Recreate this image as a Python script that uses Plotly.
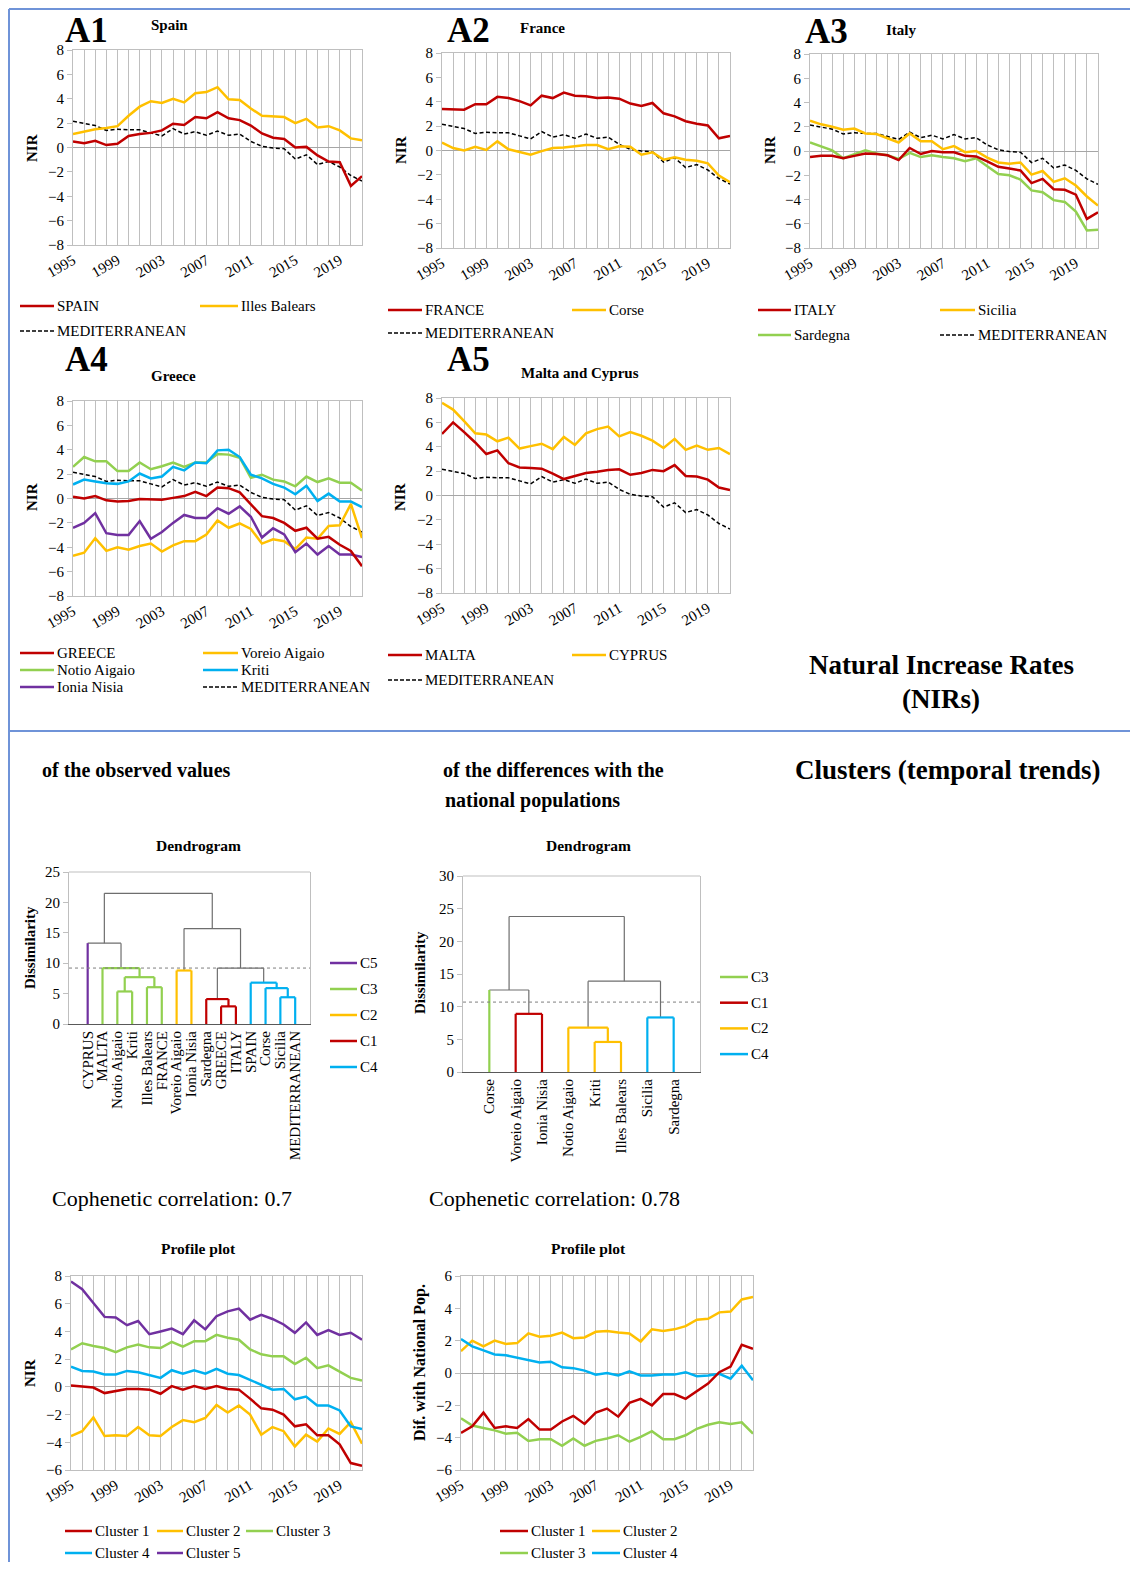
import plotly.graph_objects as go

# Page body has an 8px margin: the figure is sized to fit the window without scrollbars
OFF = 8
W, H = 1122, 1554
FONT = "Liberation Serif"

# ---------------- DATA ----------------
years = list(range(1995, 2022))
tick_labels = [str(y) if (y - 1995) % 4 == 0 else "" for y in years]

MEDITERRANEAN = [2.15, 2.0, 1.8, 1.4, 1.5, 1.45, 1.45, 1.2, 0.95, 1.55, 1.1, 1.3, 1.0, 1.35, 1.0, 1.1,
                 0.5, 0.1, -0.05, -0.1, -0.95, -0.6, -1.4, -1.15, -1.6, -2.3, -2.75]

SPAIN = [0.5, 0.35, 0.55, 0.2, 0.3, 0.95, 1.1, 1.2, 1.4, 1.95, 1.85, 2.5, 2.4, 2.9, 2.4, 2.25,
         1.8, 1.15, 0.8, 0.7, 0.0, 0.05, -0.65, -1.15, -1.2, -3.15, -2.35]
Illes_Balears = [1.1, 1.3, 1.5, 1.6, 1.75, 2.6, 3.35, 3.8, 3.65, 4.0, 3.7, 4.45, 4.55, 4.95, 3.95, 3.9,
                 3.2, 2.6, 2.55, 2.5, 2.0, 2.35, 1.65, 1.75, 1.4, 0.75, 0.6]

FRANCE = [3.4, 3.4, 3.35, 3.8, 3.8, 4.4, 4.3, 4.05, 3.7, 4.5, 4.3, 4.75, 4.5, 4.45, 4.3, 4.35,
          4.25, 3.85, 3.65, 3.9, 3.05, 2.8, 2.4, 2.2, 2.05, 1.0, 1.2]
Corse = [0.65, 0.2, 0.0, 0.3, 0.05, 0.75, 0.1, -0.1, -0.35, -0.05, 0.2, 0.25, 0.35, 0.45, 0.45, 0.1,
         0.35, 0.3, -0.35, -0.15, -0.75, -0.55, -0.75, -0.85, -1.05, -2.05, -2.6]

ITALY = [-0.5, -0.4, -0.4, -0.6, -0.4, -0.2, -0.25, -0.35, -0.75, 0.25, -0.25, 0.0, -0.1, -0.1, -0.4, -0.45,
         -0.85, -1.3, -1.45, -1.6, -2.65, -2.3, -3.15, -3.2, -3.6, -5.6, -5.05]
Sicilia = [2.5, 2.2, 2.0, 1.75, 1.85, 1.45, 1.4, 1.05, 0.7, 1.45, 0.8, 0.8, 0.15, 0.4, -0.1, 0.0,
           -0.55, -0.95, -1.05, -0.95, -1.95, -1.65, -2.55, -2.25, -2.85, -3.75, -4.5]
Sardegna = [0.7, 0.35, 0.05, -0.6, -0.3, 0.05, -0.2, -0.35, -0.65, -0.15, -0.5, -0.35, -0.5, -0.6, -0.85, -0.6,
            -1.25, -1.9, -2.0, -2.35, -3.25, -3.4, -4.05, -4.2, -5.0, -6.55, -6.5]

GREECE = [0.15, 0.0, 0.2, -0.15, -0.25, -0.2, -0.05, -0.05, -0.1, 0.05, 0.2, 0.55, 0.2, 0.9, 0.85, 0.5,
          -0.5, -1.45, -1.6, -2.0, -2.65, -2.4, -3.3, -3.15, -3.8, -4.3, -5.55]
Voreio_Aigaio = [-4.7, -4.45, -3.25, -4.3, -4.0, -4.2, -3.9, -3.7, -4.35, -3.85, -3.5, -3.5, -2.95, -1.8, -2.4, -2.05,
                 -2.5, -3.7, -3.35, -3.5, -4.15, -3.2, -3.3, -2.25, -2.2, -0.45, -3.25]
Notio_Aigaio = [2.6, 3.4, 3.05, 3.05, 2.25, 2.25, 2.95, 2.4, 2.65, 2.95, 2.6, 2.95, 2.95, 3.65, 3.6, 3.35,
                1.7, 1.95, 1.55, 1.4, 1.0, 1.8, 1.35, 1.65, 1.3, 1.3, 0.65]
Kriti = [1.15, 1.55, 1.4, 1.25, 1.2, 1.4, 2.05, 1.65, 1.8, 2.6, 2.3, 2.95, 2.9, 3.95, 4.0, 3.4,
         1.95, 1.65, 1.2, 0.9, 0.35, 1.05, -0.2, 0.4, -0.25, -0.25, -0.7]
Ionia_Nisia = [-2.4, -2.0, -1.2, -2.85, -3.0, -3.0, -1.85, -3.3, -2.75, -2.0, -1.35, -1.6, -1.6, -0.8, -1.25, -0.65,
               -1.5, -3.2, -2.45, -2.95, -4.4, -3.7, -4.6, -3.9, -4.6, -4.6, -4.8]

MALTA = [5.05, 6.0, 5.2, 4.35, 3.4, 3.7, 2.65, 2.3, 2.25, 2.2, 1.8, 1.35, 1.6, 1.85, 1.95, 2.1,
         2.15, 1.7, 1.85, 2.1, 2.0, 2.5, 1.6, 1.55, 1.3, 0.65, 0.45]
CYPRUS = [7.6, 7.05, 6.1, 5.1, 5.0, 4.45, 4.75, 3.85, 4.05, 4.25, 3.8, 4.8, 4.15, 5.1, 5.45, 5.65,
          4.85, 5.2, 4.9, 4.5, 3.9, 4.65, 3.75, 4.1, 3.75, 3.9, 3.4]

# Profile plot (observed values)
P1_Cluster1 = [0.1, 0.0, -0.05, -0.45, -0.3, -0.15, -0.15, -0.2, -0.5, 0.05, -0.2, 0.05, -0.15, 0.05, -0.15, -0.2,
               -0.85, -1.55, -1.65, -2.0, -2.85, -2.7, -3.5, -3.5, -4.15, -5.5, -5.7]
P1_Cluster2 = [-3.55, -3.2, -2.2, -3.55, -3.5, -3.55, -2.9, -3.5, -3.55, -2.9, -2.4, -2.55, -2.25, -1.3, -1.85, -1.35,
               -2.0, -3.45, -2.9, -3.2, -4.3, -3.45, -3.95, -3.0, -3.4, -2.55, -4.1]
P1_Cluster3 = [2.7, 3.15, 2.95, 2.8, 2.5, 2.85, 3.05, 2.85, 2.8, 3.25, 2.9, 3.3, 3.3, 3.75, 3.55, 3.4,
               2.7, 2.35, 2.2, 2.2, 1.65, 2.1, 1.35, 1.55, 1.1, 0.65, 0.45]
P1_Cluster4 = [1.45, 1.15, 1.1, 0.9, 0.9, 1.15, 1.05, 0.85, 0.65, 1.2, 0.95, 1.2, 0.95, 1.3, 0.95, 0.85,
               0.5, 0.1, -0.2, -0.15, -0.9, -0.7, -1.35, -1.35, -1.7, -2.85, -3.05]
P1_Cluster5 = [7.6, 7.05, 6.05, 5.05, 5.0, 4.45, 4.75, 3.8, 4.0, 4.2, 3.8, 4.8, 4.15, 5.1, 5.45, 5.65,
               4.85, 5.2, 4.9, 4.5, 3.9, 4.65, 3.75, 4.1, 3.75, 3.9, 3.4]

# Profile plot (differences with national populations)
P2_Cluster1 = [-3.7, -3.3, -2.45, -3.4, -3.3, -3.4, -2.85, -3.5, -3.5, -3.0, -2.65, -3.15, -2.45, -2.2, -2.7, -1.85,
               -1.6, -2.0, -1.3, -1.3, -1.6, -1.1, -0.65, 0.05, 0.4, 1.75, 1.5]
P2_Cluster2 = [1.35, 2.0, 1.65, 2.0, 1.8, 1.85, 2.45, 2.25, 2.3, 2.5, 2.15, 2.2, 2.55, 2.6, 2.5, 2.45,
               1.95, 2.7, 2.6, 2.7, 2.9, 3.3, 3.35, 3.75, 3.8, 4.55, 4.7]
P2_Cluster3 = [-2.8, -3.25, -3.4, -3.55, -3.75, -3.7, -4.2, -4.1, -4.1, -4.5, -4.05, -4.5, -4.2, -4.05, -3.85, -4.25,
               -3.95, -3.6, -4.1, -4.1, -3.85, -3.45, -3.2, -3.05, -3.15, -3.05, -3.75]
P2_Cluster4 = [2.1, 1.65, 1.4, 1.15, 1.1, 0.95, 0.8, 0.65, 0.7, 0.35, 0.3, 0.15, -0.1, 0.0, -0.15, 0.1,
               -0.15, -0.15, -0.1, -0.1, 0.05, -0.2, -0.15, -0.05, -0.35, 0.45, -0.45]

# Dendrogram 1 (observed values)
D1_leaves = ["CYPRUS", "MALTA", "Notio Aigaio", "Kriti", "Illes Balears", "FRANCE", "Voreio Aigaio",
             "Ionia Nisia", "Sardegna", "GREECE", "ITALY", "SPAIN", "Corse", "Sicilia", "MEDITERRANEAN"]
D1_clusters = ["C5", "C3", "C3", "C3", "C3", "C3", "C2", "C2", "C1", "C1", "C1", "C4", "C4", "C4", "C4"]
D1_merge_a = [2, 4, 15, 1, 0, 6, 9, 8, 13, 12, 11, 22, 20, 19]
D1_merge_b = [3, 5, 16, 17, 18, 7, 10, 21, 14, 23, 24, 25, 26, 27]
D1_merge_h = [5.35, 6.05, 7.7, 9.2, 13.3, 8.8, 2.9, 4.1, 4.4, 5.9, 6.8, 9.2, 15.7, 21.5]
D1_threshold = 9.2
D1_legend = ["C5", "C3", "C2", "C1", "C4"]

# Dendrogram 2 (differences)
D2_leaves = ["Corse", "Voreio Aigaio", "Ionia Nisia", "Notio Aigaio", "Kriti", "Illes Balears", "Sicilia", "Sardegna"]
D2_clusters = ["C3", "C1", "C1", "C2", "C2", "C2", "C4", "C4"]
D2_merge_a = [1, 0, 4, 3, 6, 11, 9]
D2_merge_b = [2, 8, 5, 10, 7, 12, 13]
D2_merge_h = [8.9, 12.55, 4.6, 6.8, 8.35, 13.9, 23.8]
D2_threshold = 10.7
D2_legend = ["C3", "C1", "C2", "C4"]

# ---------------- STYLE ----------------
RED, YEL, GRN, BLU, PUR = "#C00000", "#FFC000", "#92D050", "#00B0F0", "#7030A0"
CCOL = {"C1": RED, "C2": YEL, "C3": GRN, "C4": BLU, "C5": PUR}
GRID = "#BFBFBF"
BORDER = "#6F93D8"

fig = go.Figure()
layout = {}
annotations = []
shapes = []


def X(px):
    return (px - OFF) / W


def Y(py):
    return 1 - (py - OFF) / H


def ann(text, x, y, size, bold=False, xanchor="center", angle=0, yanchor="middle"):
    annotations.append(dict(text=f"<b>{text}</b>" if bold else text, x=X(x), y=Y(y), xref="paper",
                            yref="paper", showarrow=False, font=dict(size=size, family=FONT, color="black"),
                            xanchor=xanchor, yanchor=yanchor, textangle=angle))


def leg(x0, x1, y, color, text, dash="solid", width=2.5):
    shapes.append(dict(type="line", xref="paper", yref="paper", x0=X(x0), x1=X(x1), y0=Y(y), y1=Y(y),
                       line=dict(color=color, width=width, dash=dash)))
    ann(text, x1 + 1, y, 15, xanchor="left")


def line_panel(n, xp, yp, yrange, series):
    sfx = "" if n == 1 else str(n)
    for vals, color, dash in series:
        fig.add_trace(go.Scatter(x=years, y=vals, mode="lines", xaxis="x" + sfx, yaxis="y" + sfx,
                                 line=dict(color=color, width=1.5 if dash != "solid" else 2.5,
                                           dash=dash), showlegend=False, hoverinfo="skip"))
    layout["xaxis" + sfx] = dict(domain=[X(xp[0]), X(xp[1])], range=[1995, 2021], tickvals=years,
                                 ticktext=tick_labels, tickangle=-30, showgrid=True, gridcolor=GRID,
                                 gridwidth=1, showline=True, mirror=True, linecolor=GRID, ticks="",
                                 zeroline=False, tickfont=dict(size=15, family=FONT), anchor="y" + sfx,
                                 fixedrange=True, automargin=False)
    layout["yaxis" + sfx] = dict(domain=[Y(yp[1]), Y(yp[0])], range=yrange, dtick=2, tick0=0,
                                 showgrid=False, zeroline=True, zerolinecolor="#A6A6A6", zerolinewidth=1,
                                 showline=True, mirror=True, linecolor=GRID, ticks="outside", ticklen=5,
                                 tickcolor=GRID, tickfont=dict(size=15, family=FONT), anchor="x" + sfx,
                                 fixedrange=True, automargin=False)


def dendro_panel(n, xp, yp, xrange, yrange, leaves, clusters, ma, mb, mh, threshold):
    sfx = str(n)
    nl = len(leaves)
    pos = {i: i + 1 for i in range(nl)}
    hgt = {i: 0.0 for i in range(nl)}
    members = {i: {i} for i in range(nl)}
    segs = {}
    gray = "#6E6E6E"
    for k, (a, b, h) in enumerate(zip(ma, mb, mh)):
        node = nl + k
        mem = members[a] | members[b]
        cl = {clusters[m] for m in mem}
        pure = len(cl) == 1
        top = CCOL[clusters[next(iter(mem))]] if pure else gray
        for c in (a, b):
            if pure:
                col = top
            elif c < nl:
                col = CCOL[clusters[c]]
            else:
                col = gray
            segs.setdefault(col, []).append(([pos[c], pos[c]], [hgt[c], h]))
        segs.setdefault(top, []).append(([pos[a], pos[b]], [h, h]))
        pos[node] = (pos[a] + pos[b]) / 2
        hgt[node] = h
        members[node] = mem
    order = [gray] + [c for c in segs if c != gray]
    for col in order:
        if col not in segs:
            continue
        xs, ys = [], []
        for sx, sy in segs[col]:
            xs += sx + [None]
            ys += sy + [None]
        fig.add_trace(go.Scatter(x=xs, y=ys, mode="lines", xaxis="x" + sfx, yaxis="y" + sfx,
                                 line=dict(color=col, width=1.2 if col == gray else 2.2),
                                 showlegend=False, hoverinfo="skip"))
    # truncation line
    fig.add_trace(go.Scatter(x=list(xrange), y=[threshold, threshold], mode="lines", xaxis="x" + sfx,
                             yaxis="y" + sfx, line=dict(color="#7F7F7F", width=1, dash="dot"),
                             showlegend=False, hoverinfo="skip"))
    layout["xaxis" + sfx] = dict(domain=[X(xp[0]), X(xp[1])], range=list(xrange),
                                 tickvals=list(range(1, nl + 1)), ticktext=leaves, tickangle=-90,
                                 showgrid=False, zeroline=False, showline=True, linecolor="#595959",
                                 mirror=False, ticks="", tickfont=dict(size=15, family=FONT),
                                 anchor="y" + sfx, fixedrange=True, automargin=False)
    layout["yaxis" + sfx] = dict(domain=[Y(yp[1]), Y(yp[0])], range=list(yrange), dtick=5, tick0=0,
                                 showgrid=False, zeroline=False, showline=True, mirror=True, linecolor=GRID,
                                 ticks="outside", ticklen=5, tickcolor=GRID, tickfont=dict(size=15, family=FONT),
                                 anchor="x" + sfx, fixedrange=True, automargin=False)
    shapes.append(dict(type="line", xref="paper", yref="paper", x0=X(xp[0]), x1=X(xp[1]), y0=Y(yp[0]),
                       y1=Y(yp[0]), line=dict(color=GRID, width=1)))


DASH = "4px,2.5px"

# ---------------- TOP PANELS ----------------
line_panel(1, (73, 362), (50, 245), [-8, 8],
           [(MEDITERRANEAN, "black", DASH), (Illes_Balears, YEL, "solid"), (SPAIN, RED, "solid")])
ann("A1", 86, 30, 35, bold=True)
ann("Spain", 169, 25, 15, bold=True)
ann("NIR", 32, 148, 15, bold=True, angle=-90)
leg(20, 54, 306, RED, "SPAIN")
leg(200, 238, 306, YEL, "Illes Balears")
leg(20, 54, 331, "black", "MEDITERRANEAN", dash="4px,2px", width=1.5)

line_panel(2, (442, 730), (53, 248), [-8, 8],
           [(MEDITERRANEAN, "black", DASH), (Corse, YEL, "solid"), (FRANCE, RED, "solid")])
ann("A2", 468, 30, 35, bold=True)
ann("France", 542, 28, 15, bold=True)
ann("NIR", 401, 150, 15, bold=True, angle=-90)
leg(388, 422, 310, RED, "FRANCE")
leg(572, 606, 310, YEL, "Corse")
leg(388, 422, 333, "black", "MEDITERRANEAN", dash="4px,2px", width=1.5)

line_panel(3, (810, 1098), (54, 248), [-8, 8],
           [(MEDITERRANEAN, "black", DASH), (Sardegna, GRN, "solid"), (Sicilia, YEL, "solid"),
            (ITALY, RED, "solid")])
ann("A3", 826, 31, 35, bold=True)
ann("Italy", 901, 30, 15, bold=True)
ann("NIR", 770, 150, 15, bold=True, angle=-90)
leg(758, 791, 310, RED, "ITALY")
leg(940, 975, 310, YEL, "Sicilia")
leg(758, 791, 335, GRN, "Sardegna")
leg(940, 975, 335, "black", "MEDITERRANEAN", dash="4px,2px", width=1.5)

line_panel(4, (73, 362), (401, 596), [-8, 8],
           [(MEDITERRANEAN, "black", DASH), (Notio_Aigaio, GRN, "solid"), (Kriti, BLU, "solid"),
            (Voreio_Aigaio, YEL, "solid"), (Ionia_Nisia, PUR, "solid"), (GREECE, RED, "solid")])
ann("A4", 86, 359, 35, bold=True)
ann("Greece", 173, 376, 15, bold=True)
ann("NIR", 32, 497, 15, bold=True, angle=-90)
leg(20, 54, 653, RED, "GREECE")
leg(203, 238, 653, YEL, "Voreio Aigaio")
leg(20, 54, 670, GRN, "Notio Aigaio")
leg(203, 238, 670, BLU, "Kriti")
leg(20, 54, 687, PUR, "Ionia Nisia")
leg(203, 238, 687, "black", "MEDITERRANEAN", dash="4px,2px", width=1.5)

line_panel(5, (442, 730), (398, 593), [-8, 8],
           [(MEDITERRANEAN, "black", DASH), (CYPRUS, YEL, "solid"), (MALTA, RED, "solid")])
ann("A5", 468, 359, 35, bold=True)
ann("Malta and Cyprus", 580, 373, 15, bold=True)
ann("NIR", 400, 497, 15, bold=True, angle=-90)
leg(388, 422, 655, RED, "MALTA")
leg(572, 606, 655, YEL, "CYPRUS")
leg(388, 422, 680, "black", "MEDITERRANEAN", dash="4px,2px", width=1.5)

ann("Natural Increase Rates", 941, 665, 27, bold=True)
ann("(NIRs)", 941, 699, 27, bold=True)

# ---------------- BOTTOM PANELS ----------------
ann("of the observed values", 40, 770, 20, bold=True, xanchor="left")
ann("of the differences with the", 441, 770, 20, bold=True, xanchor="left")
ann("national populations", 443, 800, 20, bold=True, xanchor="left")
ann("Clusters (temporal trends)", 793, 770, 27, bold=True, xanchor="left")

dendro_panel(6, (69, 310), (872, 1024), (-0.26, 16.0), (0, 25), D1_leaves, D1_clusters,
             D1_merge_a, D1_merge_b, D1_merge_h, D1_threshold)
ann("Dendrogram", 198, 845, 15.5, bold=True)
ann("Dissimilarity", 30, 948, 15, bold=True, angle=-90)
for i, c in enumerate(D1_legend):
    leg(330, 357, 963 + i * 26, CCOL[c], c)

dendro_panel(7, (463, 700), (876, 1072), (0, 9), (0, 30), D2_leaves, D2_clusters,
             D2_merge_a, D2_merge_b, D2_merge_h, D2_threshold)
ann("Dendrogram", 588, 845, 15.5, bold=True)
ann("Dissimilarity", 420, 973, 15, bold=True, angle=-90)
for i, c in enumerate(D2_legend):
    leg(720, 748, 977 + i * 25.7, CCOL[c], c)

ann("Cophenetic correlation: 0.7", 50, 1198, 22, xanchor="left")
ann("Cophenetic correlation: 0.78", 427, 1198, 22, xanchor="left")

line_panel(8, (71, 362), (1276, 1470), [-6, 8],
           [(P1_Cluster2, YEL, "solid"), (P1_Cluster1, RED, "solid"), (P1_Cluster4, BLU, "solid"),
            (P1_Cluster3, GRN, "solid"), (P1_Cluster5, PUR, "solid")])
ann("Profile plot", 198, 1248, 15.5, bold=True)
ann("NIR", 30, 1373, 15, bold=True, angle=-90)
leg(65, 92, 1531, RED, "Cluster 1")
leg(157, 183, 1531, YEL, "Cluster 2")
leg(246, 273, 1531, GRN, "Cluster 3")
leg(65, 92, 1553, BLU, "Cluster 4")
leg(157, 183, 1553, PUR, "Cluster 5")

line_panel(9, (461, 753), (1276, 1470), [-6, 6],
           [(P2_Cluster3, GRN, "solid"), (P2_Cluster2, YEL, "solid"), (P2_Cluster4, BLU, "solid"),
            (P2_Cluster1, RED, "solid")])
ann("Profile plot", 588, 1248, 15.5, bold=True)
ann("Dif. with National Pop.", 420, 1363, 16, bold=True, angle=-90)
leg(500, 528, 1531, RED, "Cluster 1")
leg(592, 620, 1531, YEL, "Cluster 2")
leg(500, 528, 1553, GRN, "Cluster 3")
leg(592, 620, 1553, BLU, "Cluster 4")

# ---------------- FRAME LINES ----------------
for x0, y0, x1, y1 in [(9, 9, 9, 1562), (9, 9, 1130, 9), (9, 731, 1130, 731)]:
    shapes.append(dict(type="line", xref="paper", yref="paper", x0=X(x0), y0=Y(y0), x1=X(x1), y1=Y(y1),
                       line=dict(color=BORDER, width=2)))

fig.update_layout(template="none", width=W, height=H, margin=dict(l=0, r=0, t=0, b=0, pad=0,
                                                                   autoexpand=False),
                  autosize=False, plot_bgcolor="white", paper_bgcolor="white", showlegend=False,
                  font=dict(family=FONT, color="black"), annotations=annotations, shapes=shapes,
                  **layout)

fig.write_html("out.html")
